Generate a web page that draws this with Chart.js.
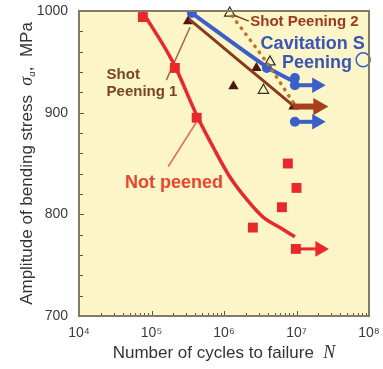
<!DOCTYPE html>
<html>
<head>
<meta charset="utf-8">
<script src="https://cdn.jsdelivr.net/npm/chart.js@4/dist/chart.umd.min.js"></script>
<style>
  html, body { margin: 0; padding: 0; background: #ffffff; }
  #wrap { width: 383px; height: 369px; }
</style>
</head>
<body>
<div id="wrap"><canvas id="sn-chart" width="383" height="369"></canvas></div>
<script>
// Eixos
const xTicks = [1e4, 1e5, 1e6, 1e7, 1e8];
const xTickLabels = ['10⁴', '10⁵', '10⁶', '10⁷', '10⁸'];
const yTicks = [700, 800, 900, 1000];

// Not peened
const npN = [7.6e4, 2.1e5, 4.2e5, 2.5e6, 6.3e6, 7.6e6, 1.0e7, 9.8e6];
const npS = [994, 944, 895, 787, 807, 850, 826, 766];
const npCurveN = [7.4e4, 2.0e5, 4.3e5, 7.1e5, 1.2e6, 2.1e6, 3.5e6, 5.9e6, 9.5e6];
const npCurveS = [1000, 949, 896, 866, 837, 814, 797, 787, 778];
const npRunoutN = [9.8e6, 2.1e7];
const npRunoutS = [766, 766];

// Shot peening 1
const sp1N = [3.2e5, 1.35e6, 2.8e6, 9.1e6];
const sp1S = [990, 926, 944, 906];
const sp1CurveN = [3.3e5, 1.5e6, 9.0e6];
const sp1CurveS = [992, 953, 907];
const sp1RunoutN = [9.0e6, 2.0e7];
const sp1RunoutS = [906, 906];

// Shot peening 2
const sp2N = [1.2e6, 4.3e6, 3.5e6];
const sp2S = [998, 950, 922];
const sp2CurveN = [1.3e6, 4.0e6, 9.0e6];
const sp2CurveS = [995, 948, 910];

// Cavitation peening
const cpN = [3.6e5, 3.9e6, 9.5e6, 9.5e6, 9.5e6];
const cpS = [998, 944, 934, 927, 891];
const cpCurveN = [3.6e5, 3.9e6, 9.5e6];
const cpCurveS = [998, 945, 930];
const cpRunout1N = [9.5e6, 1.9e7];
const cpRunout1S = [927, 927];
const cpRunout2N = [9.5e6, 1.9e7];
const cpRunout2S = [891, 891];
const cpMarkN = [8.3e7];
const cpMarkS = [952];

// Linhas de chamada
const npLeaderN = [1.7e5, 4.1e5];
const npLeaderS = [847, 890];
const sp1LeaderN = [1.6e5, 3.4e5];
const sp1LeaderS = [932, 984];
const sp2LeaderN = [2.2e6, 1.35e6];
const sp2LeaderS = [990, 996];

// Rótulos
const labelTexts = ['Shot Peening 2', 'Cavitation S', 'Peening', 'Shot', 'Peening 1', 'Not peened'];
const labelN = [2.3e6, 3.2e6, 6.3e6, 2.4e4, 2.4e4, 4.3e4];
const labelS = [989, 968, 949, 937, 920, 831];

function pts(xs, ys) {
    return xs.map((x, i) => ({ x: x, y: ys[i] }));
}

const RED = '#e8282a';
const BROWN = '#8b3a1c';
const BLUE = '#3b5fc9';
const SANS = '"Liberation Sans", Arial, sans-serif';
const SERIF = '"Liberation Serif", "Times New Roman", serif';

function runout(xs, ys, color, width, head) {
    return {
        data: pts(xs, ys),
        showLine: true,
        borderColor: color,
        backgroundColor: color,
        borderWidth: width,
        pointStyle: 'triangle',
        rotation: 90,
        pointRadius: [0, head],
        pointBorderWidth: 0
    };
}

function leader(xs, ys, color) {
    return {
        data: pts(xs, ys),
        showLine: true,
        borderColor: color,
        borderWidth: 1.5,
        pointRadius: 0
    };
}

const labelColors = ['#9a3a1e', '#3a55b5', '#3a55b5', '#7a4520', '#7a4520', '#e8442e'];
const labelFonts = [
    'bold 15px ' + SANS,
    'bold 18px ' + SANS,
    'bold 18px ' + SANS,
    'bold 15px ' + SANS,
    'bold 15px ' + SANS,
    'bold 18px ' + SANS
];

// desenha partes de texto seguidas, com fontes diferentes
function drawParts(ctx, parts, x, y) {
    let total = 0;
    parts.forEach(p => { ctx.font = p.font; total += ctx.measureText(p.text).width; });
    let cx = x - total / 2;
    parts.forEach(p => {
        ctx.font = p.font;
        ctx.fillText(p.text, cx, y + (p.dy || 0));
        cx += ctx.measureText(p.text).width;
    });
}

// Fundo, moldura, ticks internos, títulos e rótulos
const framePlugin = {
    id: 'frame',
    beforeDraw(chart) {
        const { ctx, chartArea: a } = chart;
        ctx.save();
        ctx.fillStyle = '#ffffff';
        ctx.fillRect(0, 0, chart.width, chart.height);
        ctx.fillStyle = '#fcf5c8';
        ctx.fillRect(a.left, a.top, a.right - a.left, a.bottom - a.top);
        ctx.restore();
    },
    afterDatasetsDraw(chart) {
        const { ctx, chartArea: a, scales } = chart;
        ctx.save();
        ctx.strokeStyle = '#5a5448';
        ctx.lineWidth = 1;
        for (let v = 700; v <= 1000; v += 20) {
            const y = Math.round(scales.y.getPixelForValue(v)) + 0.5;
            ctx.beginPath();
            ctx.moveTo(a.left, y);
            ctx.lineTo(a.left + (v % 100 === 0 ? 5 : 4), y);
            ctx.stroke();
        }
        for (let e = 4; e < 8; e++) {
            for (let m = 1; m < 10; m++) {
                const x = Math.round(scales.x.getPixelForValue(m * Math.pow(10, e))) + 0.5;
                ctx.beginPath();
                ctx.moveTo(x, a.bottom);
                ctx.lineTo(x, a.bottom - (m === 1 ? 5 : 3));
                ctx.stroke();
            }
        }
        ctx.strokeStyle = '#857a66';
        ctx.lineWidth = 2;
        ctx.strokeRect(a.left, a.top, a.right - a.left, a.bottom - a.top);

        ctx.textBaseline = 'middle';
        ctx.textAlign = 'left';
        labelTexts.forEach((t, i) => {
            ctx.font = labelFonts[i];
            ctx.fillStyle = labelColors[i];
            ctx.fillText(t, scales.x.getPixelForValue(labelN[i]), scales.y.getPixelForValue(labelS[i]));
        });

        // títulos dos eixos
        ctx.fillStyle = '#333333';
        ctx.textBaseline = 'alphabetic';
        drawParts(ctx, [
            { text: 'Number of cycles to failure  ', font: '17px ' + SANS },
            { text: 'N', font: 'italic 18px ' + SERIF }
        ], (a.left + a.right) / 2, 358);

        ctx.translate(32, (a.top + a.bottom) / 2);
        ctx.rotate(-Math.PI / 2);
        drawParts(ctx, [
            { text: 'Amplitude of bending stress  ', font: '17px ' + SANS },
            { text: 'σ', font: 'italic 18px ' + SERIF },
            { text: 'a', font: 'italic 11px ' + SERIF, dy: 3 },
            { text: ',  MPa', font: '17px ' + SANS }
        ], 0, 0);
        ctx.restore();
    }
};

const ctx = document.getElementById('sn-chart');
new Chart(ctx, {
    type: 'scatter',
    data: {
        datasets: [
            {
                data: pts(npCurveN, npCurveS),
                showLine: true,
                borderColor: RED,
                borderWidth: 3.5,
                cubicInterpolationMode: 'monotone',
                pointRadius: 0
            },
            {
                data: pts(npN, npS),
                pointStyle: 'rect',
                pointRadius: 7,
                backgroundColor: RED,
                borderColor: RED,
                borderWidth: 0
            },
            runout(npRunoutN, npRunoutS, RED, 3, 9),
            leader(npLeaderN, npLeaderS, '#e8604a'),
            {
                data: pts(sp2CurveN, sp2CurveS),
                showLine: true,
                borderColor: '#b8742a',
                borderWidth: 3.5,
                borderDash: [0.5, 7],
                borderCapStyle: 'round',
                tension: 0.3,
                pointRadius: 0
            },
            {
                data: pts(sp1CurveN, sp1CurveS),
                showLine: true,
                borderColor: BROWN,
                borderWidth: 3,
                tension: 0.3,
                pointRadius: 0
            },
            runout(sp1RunoutN, sp1RunoutS, '#a8401e', 6, 10),
            leader(sp1LeaderN, sp1LeaderS, '#9a6a40'),
            leader(sp2LeaderN, sp2LeaderS, '#7a4520'),
            {
                data: pts(cpCurveN, cpCurveS),
                showLine: true,
                borderColor: BLUE,
                borderWidth: 4,
                tension: 0.3,
                pointRadius: 0
            },
            runout(cpRunout1N, cpRunout1S, BLUE, 4, 9),
            runout(cpRunout2N, cpRunout2S, BLUE, 4, 9),
            {
                data: pts(cpN, cpS),
                pointStyle: 'circle',
                pointRadius: 5,
                backgroundColor: BLUE,
                borderColor: BLUE,
                borderWidth: 0
            },
            {
                data: pts(cpMarkN, cpMarkS),
                pointStyle: 'circle',
                pointRadius: 7,
                backgroundColor: 'rgba(0,0,0,0)',
                borderColor: BLUE,
                borderWidth: 1.5,
                clip: false
            },
            {
                data: pts(sp1N, sp1S),
                pointStyle: 'triangle',
                pointRadius: 6,
                backgroundColor: '#4a1a10',
                borderColor: '#4a1a10',
                borderWidth: 0
            },
            {
                data: pts(sp2N, sp2S),
                pointStyle: 'triangle',
                pointRadius: 6,
                backgroundColor: 'rgba(0,0,0,0)',
                borderColor: '#3a2a1a',
                borderWidth: 1.2,
                clip: false
            }
        ]
    },
    options: {
        responsive: false,
        animation: false,
        layout: { autoPadding: false, padding: { left: 0, top: 11, right: 14, bottom: 0 } },
        plugins: {
            legend: { display: false },
            tooltip: { enabled: false }
        },
        scales: {
            x: {
                type: 'logarithmic',
                min: 1e4,
                max: 1e8,
                afterBuildTicks: (scale) => {
                    scale.ticks = xTicks.map(v => ({ value: v }));
                },
                afterFit: (scale) => {
                    scale.height = 53;
                    scale.paddingLeft = 0;
                    scale.paddingRight = 0;
                },
                grid: { drawOnChartArea: false, drawTicks: false },
                border: { display: false },
                ticks: {
                    color: '#3a3a3a',
                    padding: 9,
                    maxRotation: 0,
                    autoSkip: false,
                    font: { family: SANS, size: 14 },
                    callback: (value) => {
                        const i = xTicks.indexOf(value);
                        return i >= 0 ? xTickLabels[i] : '';
                    }
                }
            },
            y: {
                min: 700,
                max: 1000,
                afterBuildTicks: (scale) => {
                    scale.ticks = yTicks.map(v => ({ value: v }));
                },
                afterFit: (scale) => {
                    scale.width = 79;
                    scale.paddingTop = 0;
                    scale.paddingBottom = 0;
                },
                grid: { drawOnChartArea: false, drawTicks: false },
                border: { display: false },
                ticks: {
                    color: '#3a3a3a',
                    padding: 11,
                    font: { family: SANS, size: 14 },
                    callback: (value) => String(value)
                }
            }
        }
    },
    plugins: [framePlugin]
});
</script>
</body>
</html>
